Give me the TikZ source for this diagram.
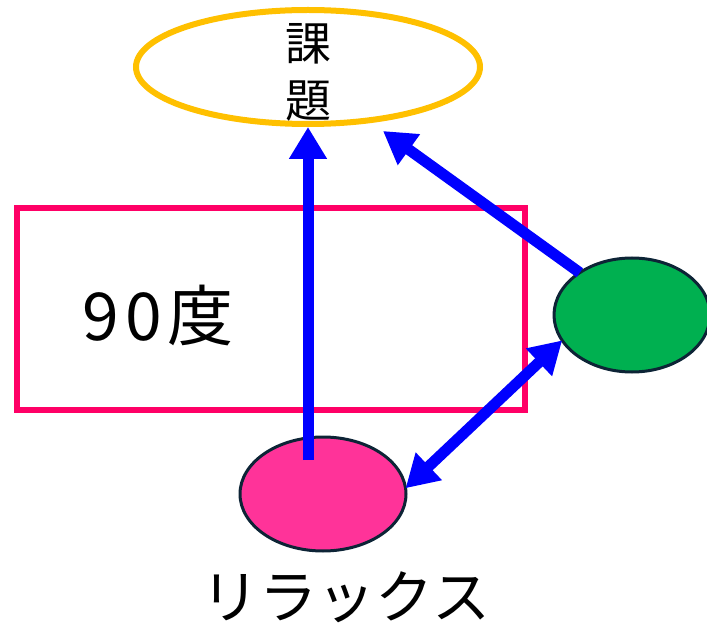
\documentclass[tikz,border=0pt]{standalone}
\usepackage{fontspec}
\setmainfont{Noto Sans CJK JP}
\usetikzlibrary{shapes.geometric,arrows.meta}
\definecolor{taskgold}{HTML}{FFC000}
\definecolor{framepink}{HTML}{FF0066}
\definecolor{relaxpink}{HTML}{FF3399}
\definecolor{leafgreen}{HTML}{00B050}
\definecolor{edgenavy}{HTML}{0D2436}
\definecolor{arrowblue}{HTML}{0000FF}
\tikzset{
  blob/.style={ellipse, draw=edgenavy, line width=3pt, inner sep=0pt, outer sep=0pt},
  bluearrow/.style={draw=arrowblue, line width=11pt,
    -{Triangle[length=32pt,width=36pt]}},
  bluedouble/.style={draw=arrowblue, line width=11pt,
    {Triangle[length=32pt,width=36pt]}-{Triangle[length=32pt,width=36pt]}},
}
\begin{document}
\begin{tikzpicture}[x=1pt,y=-1pt]
  \useasboundingbox (0,0) rectangle (707,628);
  % angle frame with its label
  \node (frame) [draw=framepink, line width=6pt, minimum width=508pt,
    minimum height=202pt, inner sep=0pt, outer sep=0pt] at (271,309) {};
  \node (deg) at (158,315) {\fontsize{66pt}{72pt}\selectfont 9\kern7pt0\kern5pt度};
  % goal ellipse
  \node (task) [ellipse, draw=taskgold, line width=6pt, minimum width=344pt,
    minimum height=114pt, inner sep=0pt, outer sep=3pt] at (308,67) {};
  \node (tasktext) [align=center, font=\fontsize{46pt}{57pt}\selectfont]
    at (308,72) {課\\題};
  % side ellipses
  \node (green) [blob, fill=leafgreen, minimum width=156pt, minimum height=114pt]
    at (632,315) {};
  \node (relax) [blob, fill=relaxpink, minimum width=166pt, minimum height=114pt]
    at (323,494) {};
  \node (relaxtext) at (346,597) {\fontsize{58pt}{64pt}\selectfont リラックス};
  % connectors
  \coordinate (vtail) at (308,460);
  \coordinate (dtip) at (383,131);
  \draw[bluearrow] (vtail) -- (task.south);
  \draw[bluearrow] (green.141) -- (dtip);
  \draw[bluedouble] (relax.4) -- (green.200);
\end{tikzpicture}
\end{document}
